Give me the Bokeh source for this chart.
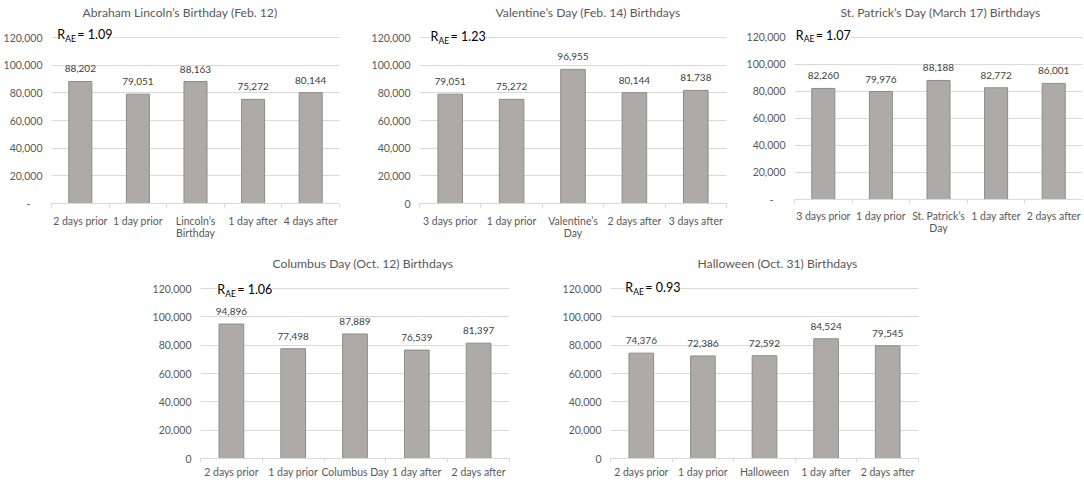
from bokeh.plotting import figure
from bokeh.models import Range1d, FixedTicker, NumeralTickFormatter, Label, Spacer, ColumnDataSource
from bokeh.layouts import column, row
from bokeh.embed import file_html
from bokeh.resources import INLINE
from bokeh.core.properties import value

# ---------------- data ----------------
y_ticks = [0, 20000, 40000, 60000, 80000, 100000, 120000]

lincoln_title = "Abraham Lincoln’s Birthday (Feb. 12)"
lincoln_cats = ["2 days prior", "1 day prior", "Lincoln’s\nBirthday", "1 day after", "4 days after"]
lincoln_vals = [88202, 79051, 88163, 75272, 80144]
lincoln_r = "1.09"

valentine_title = "Valentine’s Day (Feb. 14) Birthdays"
valentine_cats = ["3 days prior", "1 day prior", "Valentine’s\nDay", "2 days after", "3 days after"]
valentine_vals = [79051, 75272, 96955, 80144, 81738]
valentine_r = "1.23"

patrick_title = "St. Patrick’s Day (March 17) Birthdays"
patrick_cats = ["3 days prior", "1 day prior", "St. Patrick’s\nDay", "1 day after", "2 days after"]
patrick_vals = [82260, 79976, 88188, 82772, 86001]
patrick_r = "1.07"

columbus_title = "Columbus Day (Oct. 12) Birthdays"
columbus_cats = ["2 days prior", "1 day prior", "Columbus Day", "1 day after", "2 days after"]
columbus_vals = [94896, 77498, 87889, 76539, 81397]
columbus_r = "1.06"

halloween_title = "Halloween (Oct. 31) Birthdays"
halloween_cats = ["2 days prior", "1 day prior", "Halloween", "1 day after", "2 days after"]
halloween_vals = [74376, 72386, 72592, 84524, 79545]
halloween_r = "0.93"

# ---------------- style ----------------
FONT = "Lato"
BAR_FILL = "#AEAAAA"
BAR_LINE = "#8E8B8B"
GRID = "#D9D9D9"
TICK_TXT = "#595959"
VAL_TXT = "#404040"
DASH_ZERO = "-\u2007\u2007"   # accounting-style zero label ("-" with padding)


def make_chart(title, cats, vals, r_text, zero_label, frame_w, frame_h,
               mb_left, mb_right, mb_top, mb_bottom, y_end, r_x,
               title_offset, title_standoff, xlabel_standoff, r_dy):
    n = len(cats)
    xs = [i + 0.5 for i in range(n)]
    src = ColumnDataSource(dict(x=xs, top=vals, label=[f"{v:,}" for v in vals]))

    p = figure(frame_width=frame_w, frame_height=frame_h,
               x_range=Range1d(0, n), y_range=Range1d(0, y_end),
               output_backend="svg", toolbar_location=None, title=title,
               min_border_left=mb_left, min_border_right=mb_right,
               min_border_top=mb_top, min_border_bottom=mb_bottom)
    p.title.align = "left"
    p.title.offset = title_offset
    p.title.text_font = FONT
    p.title.text_font_size = "12.2px"
    p.title.text_font_style = "normal"
    p.title.text_color = TICK_TXT
    p.title.standoff = title_standoff

    p.outline_line_color = None
    p.background_fill_color = "white"
    p.border_fill_color = "white"

    p.vbar(x="x", top="top", width=0.4, source=src,
           fill_color=BAR_FILL, line_color=BAR_LINE, line_width=1)
    p.text(x="x", y="top", text="label", source=src,
           text_align="center", text_baseline="bottom", y_offset=-9,
           text_font=value(FONT), text_font_size="10px", text_color=VAL_TXT)

    # y axis
    yt = FixedTicker(ticks=y_ticks)
    p.yaxis.ticker = yt
    p.ygrid.ticker = yt
    p.yaxis.formatter = NumeralTickFormatter(format="0,0")
    p.yaxis.major_label_overrides = {0: zero_label}
    p.yaxis.axis_line_color = None
    p.yaxis.major_tick_line_color = None
    p.yaxis.minor_tick_line_color = None
    p.yaxis.major_tick_out = 0
    p.yaxis.major_tick_in = 0
    p.yaxis.major_label_text_font = FONT
    p.yaxis.major_label_text_font_size = "10.5px"
    p.yaxis.major_label_text_color = TICK_TXT
    p.yaxis.major_label_standoff = 9
    p.ygrid.grid_line_color = GRID
    p.ygrid.grid_line_width = 1

    # x axis
    p.xaxis.ticker = FixedTicker(ticks=xs, minor_ticks=list(range(n + 1)))
    p.xaxis.major_label_overrides = {x: c for x, c in zip(xs, cats)}
    p.xaxis.axis_line_color = GRID
    p.xaxis.major_tick_line_color = None
    p.xaxis.major_tick_out = 0
    p.xaxis.major_tick_in = 0
    p.xaxis.minor_tick_line_color = GRID
    p.xaxis.minor_tick_out = 4
    p.xaxis.minor_tick_in = 0
    p.xaxis.major_label_text_font = FONT
    p.xaxis.major_label_text_font_size = "10.5px"
    p.xaxis.major_label_text_color = TICK_TXT
    p.xaxis.major_label_text_baseline = "top"
    p.xaxis.major_label_text_line_height = 1.0
    p.xaxis.major_label_standoff = xlabel_standoff
    p.xgrid.visible = False

    # R_AE annotation
    parts = [("R", 0, "12.5px", r_dy), ("AE", 8, "8.5px", r_dy - 4), ("= " + r_text, 20, "12.5px", r_dy)]
    for txt, dx, size, dy in parts:
        p.add_layout(Label(x=r_x, y=y_ticks[-1], x_offset=dx, y_offset=dy, text=txt,
                           text_font=FONT, text_font_size=size, text_color="black",
                           text_baseline="alphabetic", background_fill_color="white"))
    return p


p1 = make_chart(lincoln_title, lincoln_cats, lincoln_vals, lincoln_r, DASH_ZERO,
                288, 183, 49, 23, 20, 42, 132290, 0.1, 31, 2, 7, 3)
p2 = make_chart(valentine_title, valentine_cats, valentine_vals, valentine_r, "0",
                307, 183, 57, 16, 20, 42, 132290, 0.18, 76, 2, 7, 1)
p3 = make_chart(patrick_title, patrick_cats, patrick_vals, patrick_r, DASH_ZERO,
                288, 179, 52, 0, 20, 46, 132590, 0.02, 46, 2, 6, 2)
p4 = make_chart(columbus_title, columbus_cats, columbus_vals, columbus_r, "0",
                309, 187, 55, 36, 26, 24, 132000, 0.27, 72, 2, 3, -1)
p5 = make_chart(halloween_title, halloween_cats, halloween_vals, halloween_r, "0",
                308, 187, 65, 10, 26, 24, 132000, 0.24, 87, 2, 3, 1)

layout = column(row(p1, p2, p3), row(Spacer(width=145, height=237), p4, p5))

open("out.html", "w").write(file_html(layout, INLINE))
